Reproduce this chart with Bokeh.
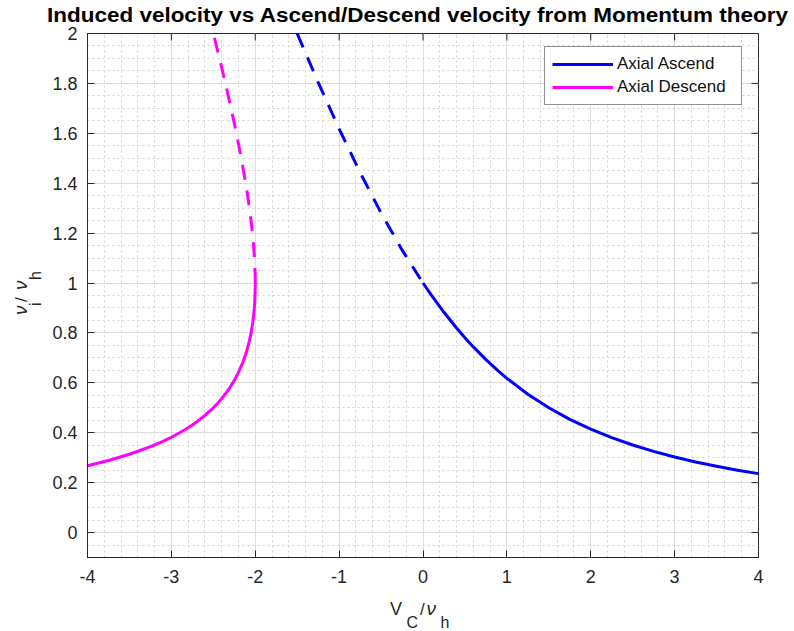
import numpy as np
from math import pi
from bokeh.plotting import figure
from bokeh.models import FixedTicker, Range1d, Legend, LegendItem, Div
from bokeh.layouts import column, row
from bokeh.embed import file_html
from bokeh.resources import INLINE

# ---------------- data ----------------
title_text = "Induced velocity vs Ascend/Descend velocity from Momentum theory"

x_lim = (-4, 4)
y_lim = (-0.1, 2)
x_ticks = [-4, -3, -2, -1, 0, 1, 2, 3, 4]
x_tick_labels = ["-4", "-3", "-2", "-1", "0", "1", "2", "3", "4"]
y_ticks = [0, 0.2, 0.4, 0.6, 0.8, 1, 1.2, 1.4, 1.6, 1.8, 2]
y_tick_labels = ["0", "0.2", "0.4", "0.6", "0.8", "1", "1.2", "1.4", "1.6", "1.8", "2"]

# Axial Ascend, solid branch (Vc >= 0)
asc_vc = [0, 0.1, 0.25, 0.4, 0.5, 0.6, 0.75, 0.9, 1.0, 1.25, 1.5, 1.75, 2.0, 2.25, 2.5,
          2.75, 3.0, 3.25, 3.5, 3.75, 4.0]
asc_vi = [1.0, 0.9512, 0.8828, 0.8198, 0.7808, 0.7440, 0.6930, 0.6466, 0.6180, 0.5542, 0.5,
          0.4538, 0.4142, 0.3802, 0.3508, 0.3252, 0.3028, 0.2830, 0.2656, 0.2500, 0.2361]
# Axial Ascend, dashed branch
asc_d_vc = [-1.5, -1.25, -1.0, -0.75, -0.5, -0.25, 0]
asc_d_vi = [2.0, 1.8042, 1.618, 1.443, 1.2808, 1.1328, 1.0]

# Axial Descend, solid branch
desc_vc = [-4, -3.75, -3.5, -3.25, -3.1, -3.0, -2.9, -2.8, -2.75, -2.7, -2.6, -2.5, -2.45,
           -2.4, -2.35, -2.3, -2.25, -2.2, -2.15, -2.12, -2.1, -2.07, -2.05, -2.03, -2.02,
           -2.01, -2.005, -2.001, -2.0005, -2.0001, -2.0]
desc_vi = [0.2679, 0.2889, 0.3139, 0.3441, 0.3657, 0.3820, 0.4000, 0.4202, 0.4313, 0.4431,
           0.4693, 0.5, 0.5175, 0.5367, 0.5581, 0.5821, 0.6096, 0.6417, 0.6805, 0.7084,
           0.7298, 0.7681, 0.8, 0.8411, 0.8682, 0.9049, 0.9317, 0.9689, 0.9776, 0.9901, 1.0]
# Axial Descend, dashed branch
desc_d_vc = [-2.0, -2.0001, -2.0005, -2.001, -2.005, -2.01, -2.02, -2.03, -2.05, -2.07, -2.1,
             -2.12, -2.15, -2.2, -2.25, -2.3, -2.35, -2.4, -2.45, -2.5]
desc_d_vi = [1.0, 1.0101, 1.0224, 1.0321, 1.0733, 1.1051, 1.1518, 1.1889, 1.25, 1.3019,
             1.3702, 1.4116, 1.4695, 1.5583, 1.6404, 1.7179, 1.7920, 1.8633, 1.9326, 2.0]

legend_labels = ["Axial Ascend", "Axial Descend"]

# ---------------- styling ----------------
BLUE = "#0000ff"
MAGENTA = "#ff00ff"
AX = "#262626"
FONT = "Liberation Sans"

x_minor = [round(v, 2) for v in np.arange(x_lim[0], x_lim[1] + 0.001, 0.2) if abs(v - round(v)) > 1e-6]
y_minor = [round(v, 3) for v in np.arange(y_lim[0], y_lim[1] + 0.001, 0.05)]

# canvas layout: title strip, y-label strip, x-label strip around the figure
TITLE_H, YLAB_W, XLAB_H = 22, 48, 34
FIG_W, FIG_H = 794 - YLAB_W, 631 - TITLE_H - XLAB_H

p = figure(width=FIG_W, height=FIG_H, output_backend="svg", toolbar_location=None,
           x_range=Range1d(*x_lim), y_range=Range1d(*y_lim),
           min_border_left=39, min_border_right=36, min_border_top=11, min_border_bottom=40,
           background_fill_color="white", border_fill_color=None)

xt = FixedTicker(ticks=x_ticks, minor_ticks=x_minor)
yt = FixedTicker(ticks=y_ticks, minor_ticks=y_minor)

for ax, t, lbls in ((p.xaxis[0], xt, x_tick_labels), (p.yaxis[0], yt, y_tick_labels)):
    ax.ticker = t
    ax.axis_line_color = AX
    ax.major_tick_line_color = AX
    ax.major_tick_in = 7
    ax.major_tick_out = 0
    ax.minor_tick_in = 0
    ax.minor_tick_out = 0
    ax.minor_tick_line_color = None
    ax.major_label_text_font = FONT
    ax.major_label_text_font_size = "18px"
    ax.major_label_text_color = AX
    ax.major_label_overrides = {tv: tl for tv, tl in zip(t.ticks, lbls)}
p.xaxis.major_label_standoff = 12
p.yaxis.major_label_standoff = 10

p.outline_line_color = AX
p.outline_line_width = 1

for g, t in ((p.xgrid, xt), (p.ygrid, yt)):
    g.ticker = t
    g.grid_line_color = "#dcdcdc"
    g.grid_line_width = 1
    g.minor_grid_line_color = "#d2d2d2"
    g.minor_grid_line_dash = "2 3"
    g.minor_grid_line_width = 1

# inward ticks on the top and right edges of the box
p.ray(x=x_ticks, y=[y_lim[1]] * len(x_ticks), length=7, length_units="screen",
      angle=-pi / 2, line_color=AX, line_width=1)
p.ray(x=[x_lim[1]] * len(y_ticks), y=y_ticks, length=7, length_units="screen",
      angle=pi, line_color=AX, line_width=1)

r_asc = p.line(asc_vc, asc_vi, line_color=BLUE, line_width=3, line_join="round")
p.line(asc_d_vc, asc_d_vi, line_color=BLUE, line_width=3, line_dash="15 11")
r_desc = p.line(desc_vc, desc_vi, line_color=MAGENTA, line_width=3, line_join="round")
p.line(desc_d_vc, desc_d_vi, line_color=MAGENTA, line_width=3, line_dash="15 11")

legend = Legend(items=[LegendItem(label=legend_labels[0], renderers=[r_asc]),
                       LegendItem(label=legend_labels[1], renderers=[r_desc])],
                location=(457, 452), margin=0, padding=7, spacing=3,
                glyph_width=61, glyph_height=20, label_standoff=4, label_width=117,
                label_text_font=FONT, label_text_font_size="17px", label_text_color="#111111",
                border_line_color=AX, border_line_width=1,
                background_fill_color="white", background_fill_alpha=1)
p.add_layout(legend)

# ---------------- texts around the plot (real SVG text in HTML strips) ----------------
SANS = "font-family=\"Liberation Sans\""
SERIF_I = "font-family=\"Liberation Serif\" font-style=\"italic\""

title_svg = (
    f'<svg width="794" height="{TITLE_H}" viewBox="0 0 794 {TITLE_H}" '
    f'style="display:block;overflow:visible">'
    f'<text x="417.5" y="22" text-anchor="middle" {SANS} font-weight="bold" font-size="19.5" '
    f'textLength="741" lengthAdjust="spacingAndGlyphs" fill="#000000">{title_text}</text></svg>'
)

xl_top = 631 - XLAB_H
xlab_svg = (
    f'<svg width="794" height="{XLAB_H}" viewBox="0 {xl_top} 794 {XLAB_H}" style="display:block" fill="{AX}">'
    f'<text x="390" y="615" {SANS} font-size="18">V</text>'
    f'<text x="406.5" y="628" {SANS} font-size="16">C</text>'
    f'<text x="420" y="615" {SANS} font-size="17">/</text>'
    f'<text x="426.5" y="615" {SERIF_I} font-size="19">\u03bd</text>'
    f'<text x="440.5" y="628" {SANS} font-size="16">h</text>'
    '</svg>'
)

def rot(x, y):
    return f'transform="translate({x},{y}) rotate(-90)"'

ylab_svg = (
    f'<svg width="{YLAB_W}" height="{FIG_H}" viewBox="0 {TITLE_H} {YLAB_W} {FIG_H}" style="display:block" fill="{AX}">'
    f'<text {rot(27, 315)} {SERIF_I} font-size="19">\u03bd</text>'
    f'<text {rot(41, 306)} {SANS} font-size="16">i</text>'
    f'<text {rot(27, 302)} {SANS} font-size="17">/</text>'
    f'<text {rot(27, 290)} {SERIF_I} font-size="19">\u03bd</text>'
    f'<text {rot(41, 280)} {SANS} font-size="16">h</text>'
    '</svg>'
)

title_div = Div(text=title_svg, width=794, height=TITLE_H, margin=0, styles={"overflow": "visible"})
ylab_div = Div(text=ylab_svg, width=YLAB_W, height=FIG_H, margin=0)
xlab_div = Div(text=xlab_svg, width=794, height=XLAB_H, margin=0)

layout = column(title_div, row(ylab_div, p, spacing=0), xlab_div, spacing=0)

open("out.html", "w").write(file_html(layout, INLINE))
